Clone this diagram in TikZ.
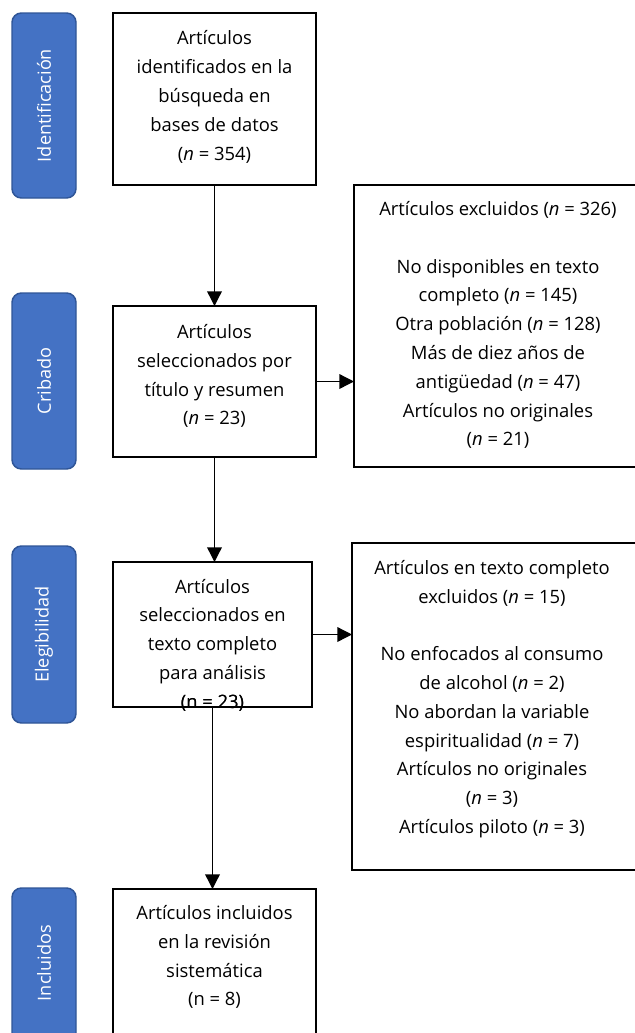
\documentclass[tikz,border=0pt]{standalone}
\usepackage{fontspec}
\setmainfont{Open Sans}
\usetikzlibrary{arrows.meta,fit}
\definecolor{stageblue}{HTML}{4472C4}
\definecolor{stageedge}{HTML}{2F5597}
\begin{document}
\begin{tikzpicture}[x=0.75pt,y=-0.75pt,
  box/.style={draw=black,line width=1.9pt,inner sep=0pt,outer sep=0pt,fill=white},
  stage/.style={draw=stageedge,line width=1.1pt,fill=stageblue,rounded corners=7pt,inner sep=0pt,outer sep=0pt},
  stagetxt/.style={text=white,rotate=90,font=\fontsize{13.6}{16}\selectfont},
  txt/.style={align=center,font=\fontsize{13.8}{21.6}\selectfont,inner sep=0pt},
  conn/.style={line width=1pt,-{Triangle[length=11pt,width=11pt]}}]
\useasboundingbox (0,0) rectangle (635,1033);
\clip (0,0) rectangle (635,1033);
% stage labels
\node[stage,fit={(12,13) (76,198)}] (s1) {};
\node[stagetxt] at (s1.center) {Identificación};
\node[stage,fit={(12,293) (76,469)}] (s2) {};
\node[stagetxt] at (s2.center) {Cribado};
\node[stage,fit={(12,546) (76,723)}] (s3) {};
\node[stagetxt] at (s3.center) {Elegibilidad};
\node[stage,fit={(12,888) (76,1065)}] (s4) {};
\node[stagetxt] at ([yshift=10pt]s4.center) {Incluidos};
% main boxes
\node[box,fit={(113,13) (316,185)}] (b1) {};
\node[txt] (t1) at (214.5,97) {Artículos\\identificados en la\\búsqueda en\\bases de datos\\(\textit{n} = 354)};
\node[box,fit={(113,306) (316,457)}] (b2) {};
\node[txt] (t2) at (214.5,376) {Artículos\\seleccionados por\\título y resumen\\(\textit{n} = 23)};
\node[box,fit={(113,562) (312,707)}] (b3) {};
\node[txt] (t3) at (212.5,645) {Artículos\\seleccionados en\\texto completo\\para análisis\\(n = 23)};
\node[box,fit={(113,889) (316,1065)}] (b4) {};
\node[txt] (t4) at (214.5,957) {Artículos incluidos\\en la revisión\\sistemática\\(n = 8)};
% exclusion boxes
\node[box,fit={(354,185) (642,467)}] (e1) {};
\node[txt] (te1) at (498,325) {Artículos excluidos (\textit{n} = 326)\\~\\No disponibles en texto\\completo (\textit{n} = 145)\\Otra población (\textit{n} = 128)\\Más de diez años de\\antigüedad (\textit{n} = 47)\\Artículos no originales\\(\textit{n} = 21)};
\node[box,fit={(352,543) (640,870)}] (e2) {};
\node[txt] (te2) at (492,699) {Artículos en texto completo\\excluidos (\textit{n} = 15)\\~\\No enfocados al consumo\\de alcohol (\textit{n} = 2)\\No abordan la variable\\espiritualidad (\textit{n} = 7)\\Artículos no originales\\(\textit{n} = 3)\\Artículos piloto (\textit{n} = 3)};
% connectors
\draw[conn] (b1.south) -- (b1.south |- b2.north);
\draw[conn] (b2.south) -- (b2.south |- b3.north);
\draw[conn] (b3.south) -- (b3.south |- b4.north);
\draw[conn] (b2.east) -- (b2.east -| e1.west);
\draw[conn] (b3.east) -- (b3.east -| e2.west);
% redraw overflowing label above connector
\node[txt] at (212.5,645) {\phantom{Artículos}\\\phantom{seleccionados en}\\\phantom{texto completo}\\\phantom{para análisis}\\(n = 23)};
\end{tikzpicture}
\end{document}
